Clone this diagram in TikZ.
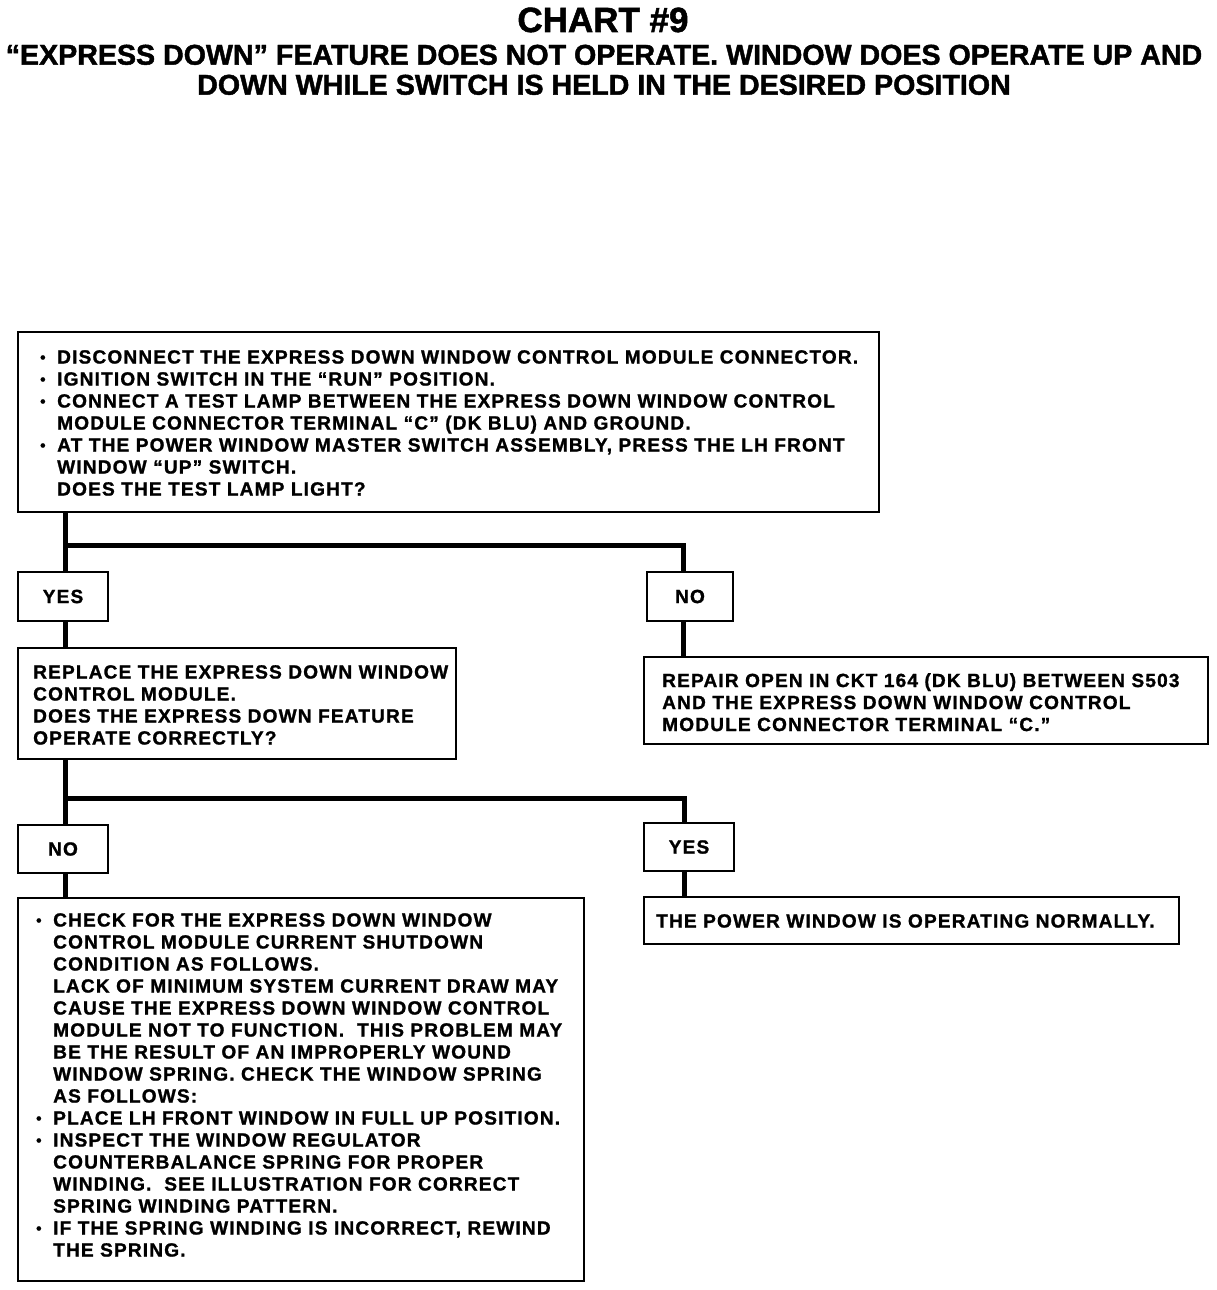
\documentclass[tikz,border=0pt]{standalone}
\usepackage{fontspec}
\setmainfont{Liberation Sans}[BoldFeatures={FakeBold=1.5}]
\newfontfamily\bodyfont{Liberation Sans}[LetterSpace=6,BoldFeatures={FakeBold=1.2}]
\newcommand\bul{\makebox[17pt][l]{\raisebox{1pt}{\scalebox{0.8}{•}}}}
\newcommand\ind{\hspace*{17pt}}
\begin{document}
\begin{tikzpicture}[x=1pt,y=-1pt,
  box/.style={draw, line width=2.5pt, inner sep=0pt},
  ans/.style={box, font=\bodyfont\bfseries\fontsize{19.1}{22}\selectfont},
  txt/.style={inner sep=0pt, anchor=north west, align=left, font=\bodyfont\bfseries\fontsize{19.1}{22}\selectfont},
  conn/.style={line width=5pt, line join=miter, line cap=rect}]
\useasboundingbox (0,0) rectangle (1216,1290);
% titles
\node[inner sep=0pt, anchor=base, font=\bfseries\fontsize{35}{35}\selectfont] (title) at (603,32) {CHART \#9};
\node[inner sep=0pt, anchor=north, align=center, font=\bfseries\fontsize{28.6}{30}\selectfont] (sub) at (604,44.5)
  {“EXPRESS DOWN” FEATURE DOES NOT OPERATE. WINDOW DOES OPERATE UP AND\\DOWN WHILE SWITCH IS HELD IN THE DESIRED POSITION};
% boxes
\node[box, minimum width=861pt, minimum height=180pt] (b1) at (448.5,422) {};
\node[ans, minimum width=90pt, minimum height=49pt] (yes1) at (63,596.5) {YES};
\node[ans, minimum width=86pt, minimum height=49pt] (no1) at (690,596.5) {NO};
\node[box, minimum width=438pt, minimum height=111pt] (b2) at (237,703.5) {};
\node[box, minimum width=564pt, minimum height=87pt] (b3) at (926,700.5) {};
\node[ans, minimum width=90pt, minimum height=48pt] (no2) at (63,849) {NO};
\node[ans, minimum width=90pt, minimum height=48pt] (yes2) at (689,847) {YES};
\node[box, minimum width=566pt, minimum height=383pt] (b4) at (301,1089.5) {};
\node[box, minimum width=535pt, minimum height=47pt] (b5) at (911.5,920.5) {};
% texts
\node[txt] (t1) at (40,350) {\bul DISCONNECT THE EXPRESS DOWN WINDOW CONTROL MODULE CONNECTOR.\\
\bul IGNITION SWITCH IN THE “RUN” POSITION.\\
\bul CONNECT A TEST LAMP BETWEEN THE EXPRESS DOWN WINDOW CONTROL\\
\ind MODULE CONNECTOR TERMINAL “C” (DK BLU) AND GROUND.\\
\bul AT THE POWER WINDOW MASTER SWITCH ASSEMBLY, PRESS THE LH FRONT\\
\ind WINDOW “UP” SWITCH.\\
\ind DOES THE TEST LAMP LIGHT?};
\node[txt] (t2) at (33,665) {REPLACE THE EXPRESS DOWN WINDOW\\
CONTROL MODULE.\\
DOES THE EXPRESS DOWN FEATURE\\
OPERATE CORRECTLY?};
\node[txt] (t3) at (662,673) {REPAIR OPEN IN CKT 164 (DK BLU) BETWEEN S503\\
AND THE EXPRESS DOWN WINDOW CONTROL\\
MODULE CONNECTOR TERMINAL “C.”};
\node[txt] (t4) at (36,913) {\bul CHECK FOR THE EXPRESS DOWN WINDOW\\
\ind CONTROL MODULE CURRENT SHUTDOWN\\
\ind CONDITION AS FOLLOWS.\\
\ind LACK OF MINIMUM SYSTEM CURRENT DRAW MAY\\
\ind CAUSE THE EXPRESS DOWN WINDOW CONTROL\\
\ind MODULE NOT TO FUNCTION.\ \ THIS PROBLEM MAY\\
\ind BE THE RESULT OF AN IMPROPERLY WOUND\\
\ind WINDOW SPRING. CHECK THE WINDOW SPRING\\
\ind AS FOLLOWS:\\
\bul PLACE LH FRONT WINDOW IN FULL UP POSITION.\\
\bul INSPECT THE WINDOW REGULATOR\\
\ind COUNTERBALANCE SPRING FOR PROPER\\
\ind WINDING.\ \ SEE ILLUSTRATION FOR CORRECT\\
\ind SPRING WINDING PATTERN.\\
\bul IF THE SPRING WINDING IS INCORRECT, REWIND\\
\ind THE SPRING.};
\node[txt] (t5) at (656,914) {THE POWER WINDOW IS OPERATING NORMALLY.};
% connectors
\coordinate (j1) at (65,545);
\coordinate (r1) at (683,545);
\coordinate (j2) at (65,798);
\coordinate (r2) at (684,798);
\draw[conn] (b1.south -| j1) -- (j1) -- (yes1.north -| j1);
\draw[conn] (j1) -- (r1) -- (no1.north -| r1);
\draw[conn] (yes1.south -| j1) -- (b2.north -| j1);
\draw[conn] (no1.south -| r1) -- (b3.north -| r1);
\draw[conn] (b2.south -| j2) -- (j2) -- (no2.north -| j2);
\draw[conn] (j2) -- (r2) -- (yes2.north -| r2);
\draw[conn] (no2.south -| j2) -- (b4.north -| j2);
\draw[conn] (yes2.south -| r2) -- (b5.north -| r2);
\end{tikzpicture}
\end{document}
